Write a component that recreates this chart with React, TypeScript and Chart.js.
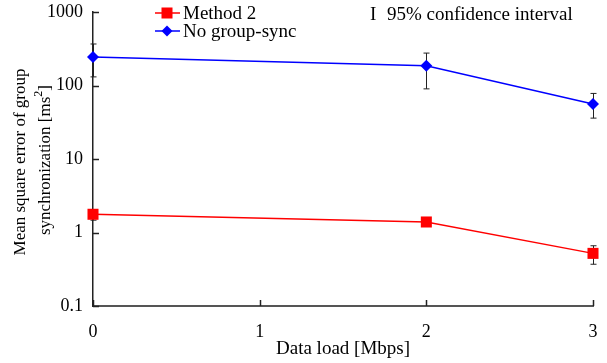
import React, { useEffect, useRef } from "react";
import { Chart, registerables } from "chart.js";

Chart.register(...registerables);

const xValues = [0, 2, 3];
const xTicks = [0, 1, 2, 3];
const yTicks = [0.1, 1, 10, 100, 1000];

const method2 = [1.77, 1.39, 0.52];
const method2Low = [1.47, 1.32, 0.37];
const method2High = [2.05, 1.46, 0.66];

const noSync = [245, 185, 56];
const noSyncLow = [131, 90, 36];
const noSyncHigh = [367, 276, 78];

const legendLabels = ["Method 2", "No group-sync"];
const ciLabel = "95% confidence interval";
const xTitle = "Data load [Mbps]";
const yTitle1 = "Mean square error of group";
const yTitle2 = "synchronization [ms";

const FONT = "'Liberation Serif', 'Times New Roman', serif";
const RED = "#ff0000";
const BLUE = "#0000ff";

const bars = [
  { low: method2Low, high: method2High },
  { low: noSyncLow, high: noSyncHigh },
];

const overlayPlugin = {
  id: "overlay",
  beforeDatasetsDraw(chart: any) {
    const ctx = chart.ctx;
    const xs = chart.scales.x;
    const ys = chart.scales.y;
    const area = chart.chartArea;
    ctx.save();
    ctx.strokeStyle = "#222";
    ctx.lineWidth = 1.5;
    yTicks.forEach((v) => {
      const y = Math.round(ys.getPixelForValue(v)) + 0.5;
      ctx.beginPath();
      ctx.moveTo(area.left, y);
      ctx.lineTo(area.left + 6, y);
      ctx.stroke();
    });
    xTicks.forEach((v) => {
      const x = Math.round(xs.getPixelForValue(v)) + 0.5;
      ctx.beginPath();
      ctx.moveTo(x, area.bottom);
      ctx.lineTo(x, area.bottom - 6);
      ctx.stroke();
    });
    ctx.strokeStyle = "#222";
    ctx.lineWidth = 1;
    bars.forEach((b) => {
      xValues.forEach((xv, i) => {
        const x = Math.round(xs.getPixelForValue(xv)) + 0.5;
        const yl = ys.getPixelForValue(b.low[i]);
        const yh = ys.getPixelForValue(b.high[i]);
        ctx.beginPath();
        ctx.moveTo(x, yl);
        ctx.lineTo(x, yh);
        ctx.moveTo(x - 3, yl);
        ctx.lineTo(x + 3, yl);
        ctx.moveTo(x - 3, yh);
        ctx.lineTo(x + 3, yh);
        ctx.stroke();
      });
    });
    ctx.restore();
  },
  afterDraw(chart: any) {
    const ctx = chart.ctx;
    const area = chart.chartArea;
    ctx.save();
    const items = [
      { color: RED, style: "rect", y: 13 },
      { color: BLUE, style: "rectRot", y: 31 },
    ];
    items.forEach((it, i) => {
      ctx.strokeStyle = it.color;
      ctx.fillStyle = it.color;
      ctx.lineWidth = 1.5;
      ctx.beginPath();
      ctx.moveTo(155, it.y);
      ctx.lineTo(180, it.y);
      ctx.stroke();
      if (it.style === "rect") {
        ctx.fillRect(161.5, it.y - 5.5, 11, 11);
      } else {
        ctx.beginPath();
        ctx.moveTo(167, it.y - 5.5);
        ctx.lineTo(172.5, it.y);
        ctx.lineTo(167, it.y + 5.5);
        ctx.lineTo(161.5, it.y);
        ctx.closePath();
        ctx.fill();
      }
      ctx.fillStyle = "#000";
      ctx.font = `19px ${FONT}`;
      ctx.textAlign = "left";
      ctx.textBaseline = "middle";
      ctx.fillText(legendLabels[i], 183, it.y + 1);
    });
    ctx.fillStyle = "#000";
    ctx.font = `19px ${FONT}`;
    ctx.textBaseline = "middle";
    ctx.textAlign = "left";
    ctx.fillText("I", 370, 15);
    ctx.fillText(ciLabel, 387, 15);
    ctx.textAlign = "center";
    ctx.font = `19px ${FONT}`;
    ctx.fillText(xTitle, (area.left + area.right) / 2, 349);
    ctx.save();
    ctx.translate(21, 162);
    ctx.rotate(-Math.PI / 2);
    ctx.font = `17px ${FONT}`;
    ctx.textAlign = "center";
    ctx.fillText(yTitle1, 0, 0);
    ctx.restore();
    ctx.save();
    ctx.translate(46, 160);
    ctx.rotate(-Math.PI / 2);
    ctx.font = `17px ${FONT}`;
    const w2 = ctx.measureText(yTitle2).width;
    ctx.font = `12px ${FONT}`;
    const wSup = ctx.measureText("2").width;
    ctx.font = `17px ${FONT}`;
    const wEnd = ctx.measureText("]").width;
    const total = w2 + wSup + wEnd;
    const x0 = -total / 2;
    ctx.textAlign = "left";
    ctx.fillText(yTitle2, x0, 0);
    ctx.font = `12px ${FONT}`;
    ctx.fillText("2", x0 + w2, -7);
    ctx.font = `17px ${FONT}`;
    ctx.fillText("]", x0 + w2 + wSup, 0);
    ctx.restore();
    ctx.restore();
  },
};

export default function App() {
  const ref = useRef<HTMLCanvasElement>(null);
  useEffect(() => {
    const canvas = ref.current!;
    const chart = new Chart(canvas, {
      type: "line",
      data: {
        datasets: [
          {
            label: legendLabels[0],
            data: xValues.map((x, i) => ({ x, y: method2[i] })),
            borderColor: RED,
            backgroundColor: RED,
            borderWidth: 1.5,
            pointStyle: "rect",
            pointRadius: 7.8,
            pointBorderWidth: 0,
            clip: false,
          },
          {
            label: legendLabels[1],
            data: xValues.map((x, i) => ({ x, y: noSync[i] })),
            borderColor: BLUE,
            backgroundColor: BLUE,
            borderWidth: 1.5,
            pointStyle: "rectRot",
            pointRadius: 6,
            pointBorderWidth: 0,
            clip: false,
          },
        ],
      },
      options: {
        responsive: false,
        animation: false,
        devicePixelRatio: 1,
        layout: { padding: { top: 12, right: 14, bottom: 0, left: 0 } },
        plugins: { legend: { display: false }, tooltip: { enabled: false } },
        scales: {
          x: {
            type: "linear",
            min: 0,
            max: 3,
            afterBuildTicks: (s: any) => {
              s.ticks = xTicks.map((v) => ({ value: v }));
            },
            afterFit: (s: any) => {
              s.height = 57;
              s.paddingLeft = 0;
              s.paddingRight = 0;
            },
            grid: { display: false, drawTicks: false },
            border: { display: true, color: "#555", width: 2 },
            ticks: {
              color: "#000",
              font: { family: FONT, size: 18 },
              padding: 15,
              maxRotation: 0,
              callback: (v: any) => String(v),
            },
          },
          y: {
            type: "logarithmic",
            min: 0.1,
            max: 1000,
            afterBuildTicks: (s: any) => {
              s.ticks = yTicks.map((v) => ({ value: v }));
            },
            afterFit: (s: any) => {
              s.width = 93;
              s.paddingTop = 0;
              s.paddingBottom = 0;
            },
            grid: { display: false, drawTicks: false },
            border: { display: true, color: "#222", width: 1.5 },
            ticks: {
              color: "#000",
              font: { family: FONT, size: 18 },
              padding: 10,
              callback: (v: any) => String(v),
            },
          },
        },
      } as any,
      plugins: [overlayPlugin],
    });
    return () => chart.destroy();
  }, []);
  return (
    <div style={{ position: "fixed", left: 0, top: 0, width: 607, height: 363, background: "#fff" }}>
      <canvas ref={ref} width={607} height={363} />
    </div>
  );
}
